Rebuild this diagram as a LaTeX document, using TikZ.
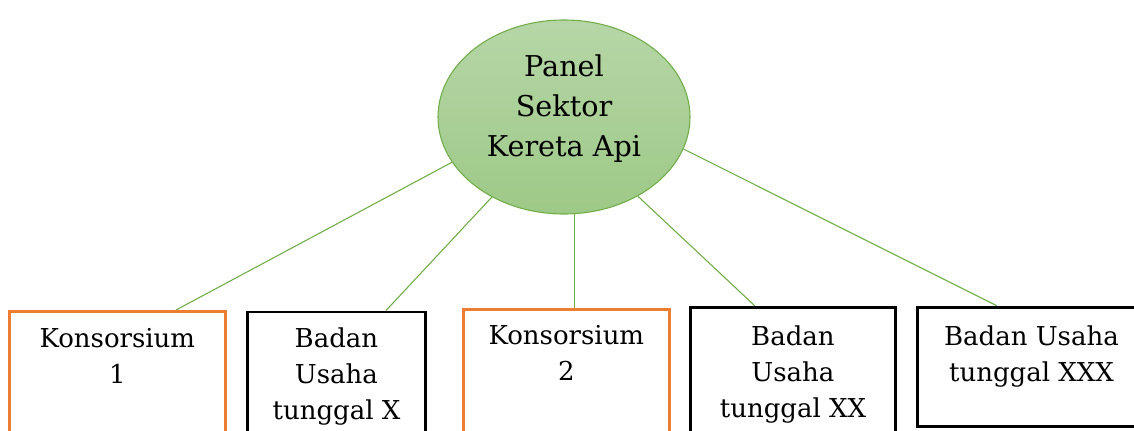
\documentclass[tikz,border=0pt]{standalone}
\usepackage{fontspec}
\setmainfont{DejaVu Serif}
\usetikzlibrary{shapes.geometric,calc}
\definecolor{gline}{HTML}{70AD47}
\definecolor{orangeb}{HTML}{ED7D31}
\definecolor{gtop}{RGB}{182,214,167}
\definecolor{gbot}{RGB}{157,201,135}
\begin{document}
\begin{tikzpicture}[x=0.75pt,y=-0.75pt,
  conn/.style={draw=gline,line width=0.8pt},
  kbox/.style={draw=orangeb,line width=2pt,rectangle,anchor=north west,inner sep=0},
  bbox/.style={draw=black,line width=2.2pt,rectangle,anchor=north west,inner sep=0},
  boxtext/.style={anchor=base,inner sep=0,font=\fontsize{19.5}{27}\selectfont},
  elltext/.style={anchor=base,inner sep=0,font=\fontsize{21.5}{30}\selectfont},
  panel/.style={ellipse,draw=gline,line width=0.8pt,top color=gtop,bottom color=gbot,
    minimum width=189pt,minimum height=145.5pt,inner sep=0}
]
\useasboundingbox (0,0) rectangle (1134,431);
\clip (0,0) rectangle (1134,431);
\fill[white] (0,0) rectangle (1134,431);

% central ellipse
\node[panel] (E) at (564,117) {};
\node[elltext] (Et) at ($(E.center)+(0,-40.3)$)
  {\begin{tabular}[t]{@{}c@{}}Panel\\Sektor\\Kereta Api\end{tabular}};

% boxes
\node[kbox,minimum width=162pt,minimum height=112.5pt] (K1) at (8,310) {};
\node[bbox,minimum width=133.5pt,minimum height=112.5pt] (B1) at (246,310.5) {};
\node[kbox,minimum width=154.5pt,minimum height=112.5pt] (K2) at (462,308.3) {};
\node[bbox,minimum width=153.75pt,minimum height=112.5pt] (B2) at (689,306) {};
\node[bbox,minimum width=171pt,minimum height=89.5pt] (B3) at (916,305.7) {};

% connectors
\draw[conn] (E.202.7) -- ($(K1.north west)+(168,0)$);
\draw[conn] (E.228.1) -- ($(B1.north west)+(140,0)$);
\draw[conn] (E.276.7) -- (E.276.7 |- K2.north);
\draw[conn] (E.313.5) -- ($(B2.north west)+(66,0)$);
\draw[conn] (E.345.96) -- ($(B3.north west)+(80.7,0)$);

% redraw box borders over connector ends
\node[kbox,minimum width=162pt,minimum height=112.5pt] at (8,310) {};
\node[bbox,minimum width=133.5pt,minimum height=112.5pt] at (246,310.5) {};
\node[kbox,minimum width=154.5pt,minimum height=112.5pt] at (462,308.3) {};
\node[bbox,minimum width=153.75pt,minimum height=112.5pt] at (689,306) {};
\node[bbox,minimum width=171pt,minimum height=89.5pt] at (916,305.7) {};

% box texts
\node[boxtext] (K1t) at ($(K1.north)+(0,37)$)
  {\begin{tabular}[t]{@{}c@{}}Konsorsium\\1\end{tabular}};
\node[boxtext] (B1t) at ($(B1.north)+(0,36.5)$)
  {\begin{tabular}[t]{@{}c@{}}Badan\\Usaha\\tunggal X\end{tabular}};
\node[boxtext] (K2t) at ($(K2.north)+(0,35.7)$)
  {\begin{tabular}[t]{@{}c@{}}Konsorsium\\2\end{tabular}};
\node[boxtext] (B2t) at ($(B2.north)+(0,39)$)
  {\begin{tabular}[t]{@{}c@{}}Badan\\Usaha\\tunggal XX\end{tabular}};
\node[boxtext] (B3t) at ($(B3.north)+(0,39.3)$)
  {\begin{tabular}[t]{@{}c@{}}Badan Usaha\\tunggal XXX\end{tabular}};
\end{tikzpicture}
\end{document}
